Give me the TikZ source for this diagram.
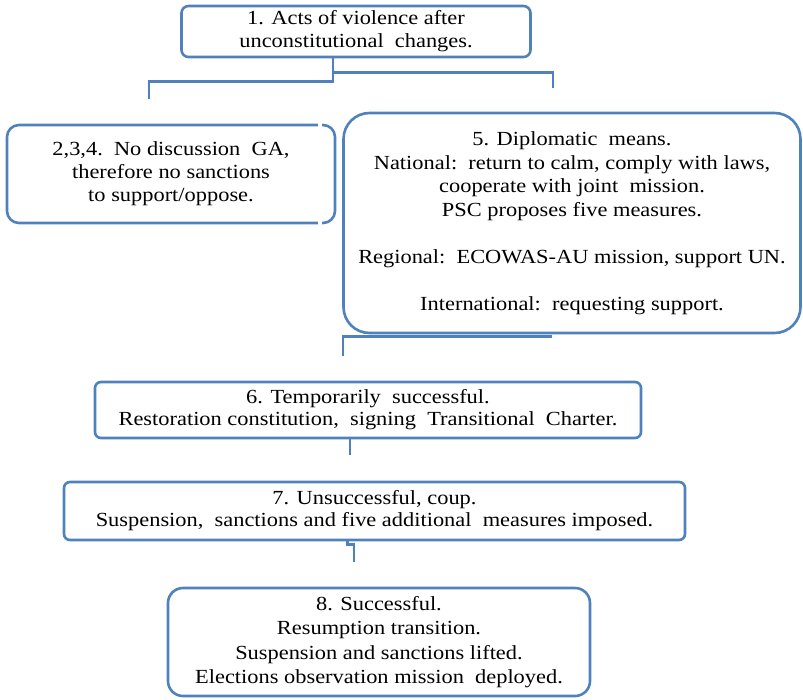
\documentclass[tikz,border=0pt]{standalone}
\usepackage{fontspec}
\setmainfont[FakeStretch=1.12]{Liberation Serif}
\definecolor{boxblue}{HTML}{4F81BD}
\begin{document}
\begin{tikzpicture}[x=1pt,y=-1pt,
  box/.style={draw=boxblue, line width=2.6pt, fill=white, inner sep=0pt,
    align=center, font=\rmfamily\fontsize{20}{23}\selectfont},
  conn/.style={draw=boxblue, line width=2.8pt}]
\useasboundingbox (0,0) rectangle (803,699);

% boxes
\node[box, rounded corners=7pt, minimum width=349pt, minimum height=51pt]
  (b1) at (356,31.5) {1. Acts of violence after\\unconstitutional\ \ changes.};
\node[box, rounded corners=12pt, minimum width=328pt, minimum height=98pt]
  (b2) at (171,174) {2,3,4.\ \ No discussion\ \ GA,\\therefore no sanctions\\to support/oppose.};
\node[box, rounded corners=26pt, minimum width=457pt, minimum height=220pt,
  font=\rmfamily\fontsize{20}{23.5}\selectfont]
  (b5) at (572,223) {5. Diplomatic\ \ means.\\National:\ \ return to calm, comply with laws,\\cooperate with joint\ \ mission.\\PSC proposes five measures.\\[23.5pt]Regional:\ \ ECOWAS-AU mission, support UN.\\[23.5pt]International:\ \ requesting support.};
\node[box, rounded corners=6pt, minimum width=546pt, minimum height=56pt,
  font=\rmfamily\fontsize{20}{22}\selectfont]
  (b6) at (368,410) {6. Temporarily\ \ successful.\\Restoration constitution,\ \ signing\ \ Transitional\ \ Charter.};
\node[box, rounded corners=6pt, minimum width=621pt, minimum height=58pt,
  font=\rmfamily\fontsize{20}{22}\selectfont]
  (b7) at (374.5,511) {7. Unsuccessful, coup.\\Suspension,\ \ sanctions and five additional\ \ measures imposed.};
\node[box, rounded corners=15pt, minimum width=422pt, minimum height=108pt,
  font=\rmfamily\fontsize{20}{24.5}\selectfont]
  (b8) at (379,642) {8. Successful.\\Resumption transition.\\Suspension and sanctions lifted.\\Elections observation mission\ \ deployed.};

% small breaks in the border of box 2 near its right corners
\fill[white] (317.5,121) rectangle (321.5,129);
\fill[white] (318,219) rectangle (321.5,227);

% free ends of the connectors
\coordinate (e2) at (149,99);
\coordinate (e5) at (553,88);
\coordinate (e6) at (343,356);
\coordinate (e7) at (350,455);
\coordinate (e8) at (354,562);

% connectors
\draw[conn] ([xshift=-23pt]b1.south) -- ++(0,23) -| (e2);
\draw[conn] ([xshift=-23pt]b1.south) -- ++(0,14) -| (e5);
\draw[conn] ([xshift=-20pt,yshift=-2.5pt]b5.south) -| (e6);
\draw[conn] ([xshift=-18pt]b6.south) -- (e7);
\draw[conn] ([xshift=-27pt]b7.south) -- ++(0,3) -| (e8);
\end{tikzpicture}
\end{document}
